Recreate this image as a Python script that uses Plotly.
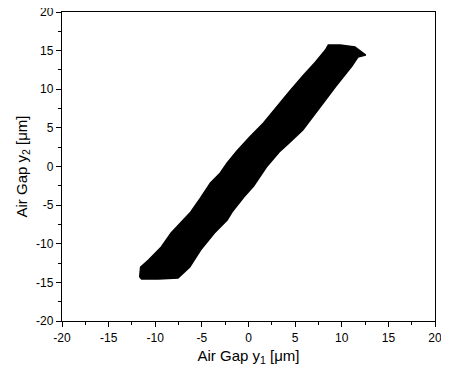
import plotly.graph_objects as go

# Outline of the dense (y1, y2) air-gap point cloud
# upper-left boundary (bottom -> top), then top, then lower-right boundary (top -> bottom)
band_y1 = [-11.67, -11.57, -10.72, -9.35, -8.30, -7.25, -6.19, -5.14, -4.08, -3.03,
           -2.29, -1.24, 0.13, 1.61, 2.98, 4.35, 5.82, 7.19, 8.25, 8.56,
           9.83, 11.41, 12.57,
           11.73, 11.09, 10.04, 9.30, 8.25, 7.19, 5.82, 4.35, 3.29, 1.92,
           0.55, -0.50, -1.77, -2.29, -3.66, -5.14, -6.30, -7.56, -9.67, -11.46, -11.67]
band_y2 = [-14.30, -13.01, -12.10, -10.42, -8.61, -7.31, -5.89, -4.08, -2.14, -0.84,
           0.45, 2.01, 3.82, 5.63, 7.70, 9.64, 11.72, 13.53, 15.08, 15.73,
           15.73, 15.47, 14.43,
           14.17, 13.01, 11.46, 10.29, 8.61, 6.93, 4.72, 3.04, 1.88, -0.06,
           -2.52, -3.95, -5.89, -6.93, -8.61, -10.81, -13.01, -14.43, -14.56, -14.56, -14.30]

tick_vals = [-20, -15, -10, -5, 0, 5, 10, 15, 20]
tick_text = ["-20", "-15", "-10", "-5", "0", "5", "10", "15", "20"]

FONT = "Liberation Sans, Arial, sans-serif"

fig = go.Figure()
fig.add_trace(go.Scatter(
    x=band_y1, y=band_y2, mode="lines", fill="toself",
    fillcolor="black", line=dict(color="black", width=1.5),
    hoverinfo="skip", showlegend=False,
))

axis_common = dict(
    range=[-20, 20], tickvals=tick_vals, ticktext=tick_text,
    showgrid=False, zeroline=False, showline=True, linecolor="black",
    linewidth=1.3, mirror=True, ticks="outside", ticklen=5, tickwidth=1.3,
    tickcolor="black", automargin=False, ticklabeloverflow="allow",
    tickfont=dict(family=FONT, size=12, color="black"),
    minor=dict(ticks="outside", ticklen=3, tickwidth=1, dtick=2.5, tickcolor="black"),
)

fig.update_xaxes(
    **axis_common,
    title=dict(text="Air Gap y<sub>1</sub> [μm]", standoff=6,
               font=dict(family=FONT, size=15, color="black")),
)
fig.update_yaxes(
    **axis_common,
    title=dict(text="Air Gap y<sub>2</sub> [μm]", standoff=4,
               font=dict(family=FONT, size=15, color="black")),
)

# the page adds an 8px body margin, so the figure is sized to fit inside the window
fig.update_layout(
    width=433, height=360,
    margin=dict(l=54, r=6, t=4, b=47, autoexpand=False),
    plot_bgcolor="white", paper_bgcolor="white",
    showlegend=False,
)

fig.write_html("out.html")
